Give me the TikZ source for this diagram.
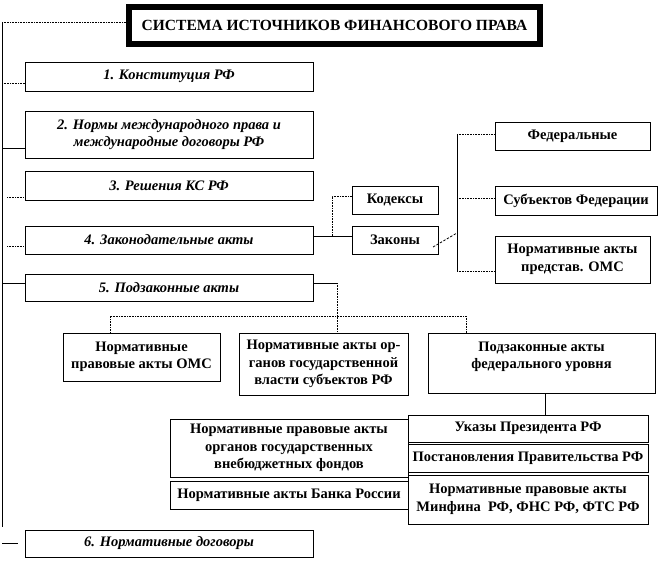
\documentclass[tikz,border=0pt]{standalone}
\usepackage{fontspec}
\setmainfont{Liberation Serif}
\begin{document}
\begin{tikzpicture}[x=1bp,y=-1bp,
  box/.style={draw, line width=0.8bp, inner sep=1bp, align=center,
    font=\bfseries\fontsize{14.5bp}{17.5bp}\selectfont},
  numbox/.style={box, font=\bfseries\itshape\fontsize{14.5bp}{17.5bp}\selectfont},
  sz/.style 2 args={minimum width=#1bp, minimum height=#2bp},
  dotln/.style={line width=0.8bp, dash pattern=on 0.8bp off 0.8bp},
  solln/.style={line width=0.9bp},
  dashln/.style={line width=0.8bp, dash pattern=on 2.5bp off 1.5bp},
  titlest/.style={draw, line width=4bp, inner sep=0pt, align=center,
    font=\bfseries\fontsize{15.5bp}{18bp}\selectfont}]
\useasboundingbox (0,0) rectangle (660,563);

% title
\node[titlest, sz={413}{39}] (title) at (334.5,25.5) {СИСТЕМА ИСТОЧНИКОВ ФИНАНСОВОГО ПРАВА};
\draw[line width=1.1bp] ([shift={(5,5)}]title.north west) rectangle ([shift={(-5,-5)}]title.south east);

% main column
\node[numbox, sz={288}{29}] (b1) at (169,76.5) {1. Конституция РФ};
\node[numbox, sz={288}{47}] (b2) at (169,134.5) {2. Нормы международного права и\\международные договоры РФ};
\node[numbox, sz={288}{29}] (b3) at (169,185.5) {3. Решения КС РФ};
\node[numbox, sz={288}{28}] (b4) at (169,240) {4. Законодательные акты};
\node[numbox, sz={288}{27}] (b5) at (169,287.5) {5. Подзаконные акты};
\node[numbox, sz={288}{27}] (b6) at (169,543.5) {6. Нормативные договоры};

% laws
\node[box, sz={86}{28}] (kod) at (395,200) {Кодексы};
\node[box, sz={86}{28}] (zak) at (395,240) {Законы};
\node[box, sz={155}{28}] (fed) at (572.5,136) {Федеральные};
\node[box, sz={162}{29}] (sub) at (576,200.5) {Субъектов Федерации};
\node[box, sz={155}{47}] (omsz) at (572.5,259.5) {Нормативные акты\\представ. ОМС};

% by-laws
\node[box, sz={157}{48}] (pa) at (141.5,357) {Нормативные\\правовые акты ОМС};
\node[box, sz={169}{62}] (pb) at (323.5,364) {Нормативные акты ор-\\ганов государственной\\власти субъектов РФ};
\node[box, sz={227}{60}, text depth=16bp] (pc) at (541.5,363) {Подзаконные акты\\федерального уровня};

\node[box, sz={240}{27}] (ukaz) at (528,428.5) {Указы Президента РФ};
\node[box, sz={240}{28}] (post) at (528,458) {Постановления Правительства РФ};
\node[box, sz={240}{49}] (minf) at (528,499.5) {Нормативные правовые акты\\Минфина~ РФ, ФНС РФ, ФТС РФ};
\node[box, sz={238}{58}] (vneb) at (289,448) {Нормативные правовые акты\\органов государственных\\внебюджетных фондов};
\node[box, sz={238}{28}] (bank) at (289,495) {Нормативные акты Банка России};

% left trunk
\coordinate (t0) at (2,22);
\coordinate (tend) at (2,527);
\coordinate (t1) at (2,83);
\coordinate (t2) at (2,148);
\coordinate (t3) at (7,197);
\coordinate (t4) at (7,246);
\coordinate (t5) at (2,283);
\coordinate (t6) at (2,543);
\coordinate (t6e) at (18,543);
\draw[solln] (t0) -- (tend);
\draw[dotln] (t0) -- (t0 -| title.west);
\draw[dotln] (t1) -- (t1 -| b1.west);
\draw[solln] (t2) -- (t2 -| b2.west);
\draw[dotln] (t3) -- (t3 -| b3.west);
\draw[dotln] (t4) -- (t4 -| b4.west);
\draw[solln] (t5) -- (t5 -| b5.west);
\draw[solln] (t6) -- (t6e);

% legislative acts
\coordinate (k0) at (332,236);
\coordinate (k1) at (332,196);
\draw[solln] (b4.east |- k0) -- (zak.west |- k0);
\draw[dotln] (k0) -- (k1) -- (k1 -| kod.west);
\coordinate (z0) at (433,247);
\coordinate (v0) at (457,134);
\coordinate (v1) at (457,198);
\coordinate (v2) at (457,233);
\coordinate (v3) at (457,271);
\draw[dashln] (z0) -- (v2);
\draw[line width=0.7bp] (v0) -- (v3);
\draw[dotln] (v0) -- (v0 -| fed.west);
\draw[dotln] (v1) -- (v1 -| sub.west);
\draw[dotln] (v3) -- (v3 -| omsz.west);

% by-laws
\coordinate (p0) at (337,283);
\coordinate (h0) at (110,316);
\coordinate (h1) at (466,316);
\draw[solln] (b5.east |- p0) -- (p0);
\draw[dotln] (p0) -- (p0 |- pb.north);
\draw[dotln] (h0 |- pa.north) -- (h0) -- (h1) -- (h1 |- pc.north);
\coordinate (c0) at (545,393);
\draw[solln] (c0 |- pc.south) -- (c0 |- ukaz.north);
\end{tikzpicture}
\end{document}
